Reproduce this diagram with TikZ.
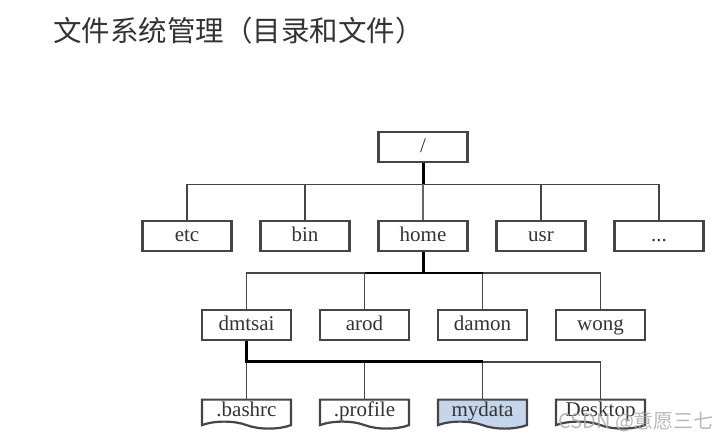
\documentclass[tikz,border=0pt]{standalone}
\usepackage{fontspec}
\setmainfont{Liberation Serif}
\newfontfamily\cjk{Noto Sans CJK SC}
\usepackage{tikz}
\usetikzlibrary{shapes,shapes.symbols,arrows}
\definecolor{titlegray}{HTML}{333333}
\definecolor{boxgray}{HTML}{454545}
\definecolor{datablue}{HTML}{C5D5EB}
\tikzstyle{block} = [draw=boxgray, fill=white, rectangle, line width=2.2pt,
minimum height=30pt, minimum width=89pt, inner sep=0pt, text=titlegray,
text height=14pt, text depth=3pt, font=\fontsize{21}{25}\selectfont]
\tikzstyle{file} = [block, tape, tape bend top=none, tape bend bottom=out and in,
tape bend height=7pt, minimum height=29pt]
\tikzstyle{link} = [draw=boxgray, line width=1.6pt]
\tikzstyle{trunk} = [draw=black, line width=3pt]

\begin{document}
\begin{tikzpicture}[x=1pt, y=-1pt, node distance=118pt]
	\useasboundingbox (0,0) rectangle (725,440);

	\node [anchor=west, inner sep=0pt, text=titlegray,
	  font=\cjk\fontsize{28.5}{34}\selectfont] (title) at (53,31) {文件系统管理（目录和文件）};

	\node [block] (root) at (423,147) {/};
	\node [block, below of=root, node distance=89pt] (home) {home};
	\node [block, left of=home] (bin) {bin};
	\node [block, left of=bin] (etc) {etc};
	\node [block, right of=home] (usr) {usr};
	\node [block, right of=usr] (more) {...};

	\node [block] (dmtsai) at (246.5,324.7) {dmtsai};
	\node [block, right of=dmtsai] (arod) {arod};
	\node [block, right of=arod] (damon) {damon};
	\node [block, right of=damon] (wong) {wong};

	\node [file, anchor=north] (bashrc) at (246.5,398.5) {.bashrc};
	\node [file, right of=bashrc] (profile) {.profile};
	\node [file, right of=profile, fill=datablue] (mydata) {mydata};
	\node [file, right of=mydata] (desktop) {Desktop};

	\coordinate (bus1) at (423,184.3);
	\coordinate (bus2) at (423,272.7);
	\coordinate (bus3) at (246.5,361.7);

	% first level
	\draw [link] (etc.north) |- (bus1) -| (more.north);
	\draw [link] (bin.north) -- (bin.north |- bus1);
	\draw [link] (usr.north) -- (usr.north |- bus1);
	\draw [link, line width=2.2pt, draw=gray!80!black] (bus1) -- (home.north);
	\draw [trunk] (root.south) -- (bus1);

	% home
	\draw [link] (dmtsai.north) |- (bus2) -| (wong.north);
	\draw [link] (arod.north) -- (arod.north |- bus2);
	\draw [link] (damon.north) -- (damon.north |- bus2);
	\draw [trunk, line width=2.4pt] (arod.north |- bus2) -- (damon.north |- bus2);
	\draw [trunk] (home.south) -- (bus2);

	% dmtsai
	\draw [link] (bus3) -| (desktop.north);
	\draw [link] (bashrc.north) -- (bus3);
	\draw [link] (profile.north) -- (profile.north |- bus3);
	\draw [link] (mydata.north) -- (mydata.north |- bus3);
	\draw [trunk, line width=2.6pt] (dmtsai.south) -- (bus3) -- (mydata.north |- bus3);

	\node [anchor=base west, inner sep=0pt, text=gray!70, opacity=0.8,
	  font=\cjk\fontsize{20}{24}\selectfont] (mark) at (558,428) {CSDN @意愿三七};

\end{tikzpicture}
\end{document}
